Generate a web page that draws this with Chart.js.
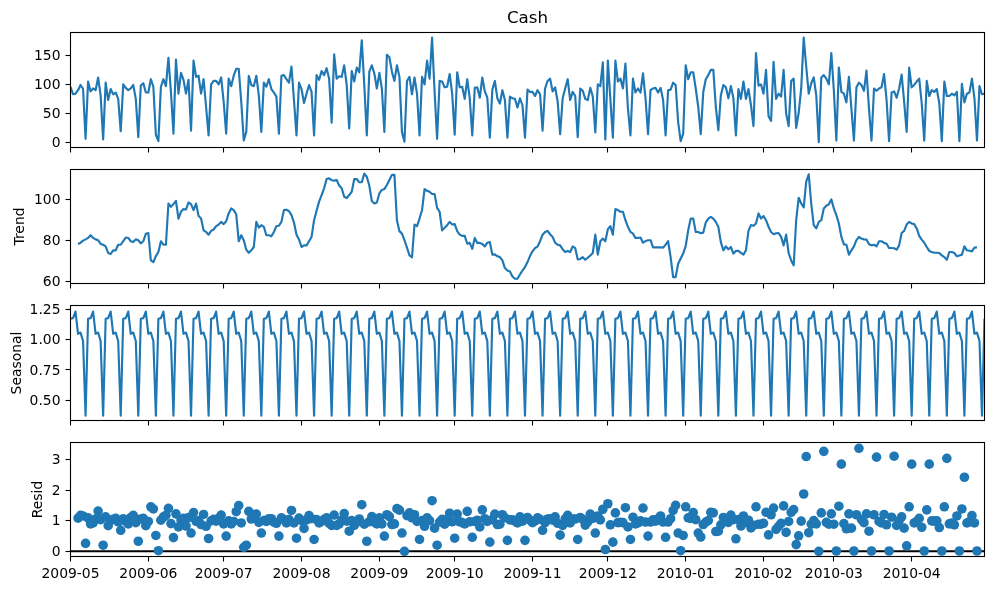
<!DOCTYPE html>
<html>
<head>
<meta charset="utf-8">
<title>Cash decomposition</title>
<script src="https://cdn.jsdelivr.net/npm/chart.js@4"></script>
<style>
html,body{margin:0;padding:0;background:#fff;width:994px;height:590px;overflow:hidden}
canvas{position:absolute;left:0}
</style>
</head>
<body>
<canvas id="c1"></canvas>
<canvas id="c2"></canvas>
<canvas id="c3"></canvas>
<canvas id="c4"></canvas>
<script>
const xTickDays = [0,31,61,92,123,153,184,214,245,276,304,335];
const xTickLabels = ["2009-05","2009-06","2009-07","2009-08","2009-09","2009-10","2009-11","2009-12","2010-01","2010-02","2010-03","2010-04"];
const xLimits = [0,364];
const cashTicks = [0,50,100,150];
const trendTicks = [60,80,100];
const seasonalTicks = [0.5,0.75,1,1.25];
const residTicks = [0,1,2,3];

const cash = [
96,83,84,90,99,92,6, 105,88,93,90,112,81,5, 103,73,92,83,86,75,19, 100,94,90,93,99,75,9,
98,102,86,86,109,96,13, 2,96,109,97,146,87,15, 143,84,120,108,84,108,20, 141,113,115,84,109,61,12,
100,106,106,100,112,70,15, 110,97,115,127,127,70,3, 18,115,99,97,115,81,18, 103,96,109,92,86,79,15,
115,116,109,103,131,73,12, 103,92,68,84,99,87,12, 116,108,123,116,128,110,34, 152,110,114,113,133,99,24,
123,105,129,121,176,99,12, 122,133,119,93,120,93,18, 151,147,122,106,133,113,18, 1,106,113,83,112,84,12,
113,100,141,110,181,87,6, 106,105,95,96,118,84,13, 121,95,96,75,109,76,12, 94,95,77,112,88,77,8,
91,106,76,67,90,73,8, 79,76,75,60,76,64,8, 91,87,87,80,90,83,20, 93,106,110,88,95,71,14,
76,93,109,73,87,80,9, 93,89,75,73,94,79,17, 100,97,138,5,141,75,8, 141,105,110,93,136,58,12,
110,86,93,86,119,76,14, 90,93,94,86,94,73,12, 90,91,103,99,35,2,15, 133,109,121,121,93,61,14,
87,109,116,125,125,61,21, 81,99,95,76,97,76,12, 92,75,105,75,92,64,28, 154,98,100,84,125,45,37,
139,75,84,79,125,50,28, 106,110,25,51,93,181,131, 84,102,112,81,0,112,116, 110,100,154,90,3,129,87,
84,69,113,58,3,95,103, 99,89,124,58,3,93,89, 93,95,118,73,2,86,88, 77,93,117,70,18,129,95,
99,105,110,67,3,106,80, 90,87,92,67,2,105,80, 80,84,81,87,2,101,69, 84,86,110,76,3,97,83, 84];

const trend = [
null,null,null,78.4,79,80,80.6, 81.3,82.6,81.3,80.6,80.2,78.4,78, 77.2,74,73.5,75.3,75.3,78,78,
79.8,81.5,81.3,79.7,79.3,80.6,80.2, 78.7,79.7,83.3,83.7,70.4,69.6,72.5, 74.5,79.7,78,78,98,96.4,97.7,
99.3,90.7,94,95.3,95.1,98.5,97.7, 94.8,98,92,90.7,85,84.2,82.9, 84.7,85.4,87,87.8,89.1,88,89.4,
93.2,95.6,94.8,92.8,79.7,82.6,80.2, 75.6,74.1,75.3,76.9,89.1,86.3,87.5, 86.7,82.6,82.6,82.1,84.2,87,87.2,
89.1,94.8,95,94.3,92.4,88.8,82.9, 80.6,76.9,77.7,77.7,79.7,81.8,89.9, 94.5,98.9,102.1,105.4,109.9,110.2,109.3,
109.1,109.4,106.7,105.4,101.3,100.7,102.1, 103.7,109.8,109.9,108.3,108.3,112.5,111, 106.7,99.2,98,98.5,102.9,104.6,105,
107,109.4,111.9,111.9,89.9,84.6,83.4, 80.2,76.6,72.8,71.9,87.8,87,90.7, 94.8,105,104.2,103.7,102.6,102.6,95.9,
94,85,86.2,87.5,89.1,87.8,88, 84.6,82.9,82.3,82.3,78.5,78.9,76, 81.3,78.9,78.9,78.4,77.2,79,79.3,
73.2,73.3,72.4,72,70.4,66.7,65.5, 65,62.6,61.5,61.5,63.6,65.5,67.2, 69.6,72.5,74.8,76.4,77.1,79.7,82.9,
84.2,84.7,83.1,81.8,79,78,77.7, 75.8,74.5,75,74.5,77.2,76.4,70.9, 71.1,72,70.7,71.7,72.8,74,82.9,
73.2,79.7,81,79.7,85.5,87,82.9, 95.3,94.8,94,94,89.9,86.7,84.2, 83.4,81.3,81.3,81.5,79,79.8,80.2,
80.2,76.7,76.7,76.7,76.7,76.6,78, 79.7,72,62.3,62.3,68.8,71.3,73.7, 77.4,85,90.7,90.7,84.2,84.2,83.6,
83.9,88.8,90.7,91.5,90.7,89.1,86.7, 79.3,75.3,77.2,75.8,76.9,73.7,75, 75,74.1,73.2,75.3,84.7,87.5,87.2,
88.3,93.2,90.7,91.9,89.9,86.7,84.2, 83.1,83.6,83.7,81.8,77.7,82.9,74, 70.4,68,89.9,100.8,98,96.1,108.6,
112.2,98,87.5,85.9,89.1,89.9,95.6, 96.9,97.6,100,95.6,92.4,88.3,81.8, 78.2,78,73.2,75.3,77.2,80.2,81.8,
81,80.6,80.5,78.2,77.7,78,77.2, 79.7,79.7,78.9,78.5,76.4,76.4,76.3, 75.6,77.7,83.7,84.7,87.8,89.1,88.3,
88,85.9,82.3,80.5,79,76.9,75, 74.5,74.1,74.1,74,72.8,72,70.7, 74.5,74.5,74,72.4,72.8,73.2,77.2,
75.3,75.1,74.8,76.6,76.7,null,null, null];

const seasonal = [
1.175,1.18,1.235,1.05,1.06,0.99,0.37, 1.175,1.18,1.235,1.05,1.06,0.99,0.37, 1.175,1.18,1.235,1.05,1.06,0.99,0.37, 1.175,1.18,1.235,1.05,1.06,0.99,0.37,
1.175,1.18,1.235,1.05,1.06,0.99,0.37, 1.175,1.18,1.235,1.05,1.06,0.99,0.37, 1.175,1.18,1.235,1.05,1.06,0.99,0.37, 1.175,1.18,1.235,1.05,1.06,0.99,0.37,
1.175,1.18,1.235,1.05,1.06,0.99,0.37, 1.175,1.18,1.235,1.05,1.06,0.99,0.37, 1.175,1.18,1.235,1.05,1.06,0.99,0.37, 1.175,1.18,1.235,1.05,1.06,0.99,0.37,
1.175,1.18,1.235,1.05,1.06,0.99,0.37, 1.175,1.18,1.235,1.05,1.06,0.99,0.37, 1.175,1.18,1.235,1.05,1.06,0.99,0.37, 1.175,1.18,1.235,1.05,1.06,0.99,0.37,
1.175,1.18,1.235,1.05,1.06,0.99,0.37, 1.175,1.18,1.235,1.05,1.06,0.99,0.37, 1.175,1.18,1.235,1.05,1.06,0.99,0.37, 1.175,1.18,1.235,1.05,1.06,0.99,0.37,
1.175,1.18,1.235,1.05,1.06,0.99,0.37, 1.175,1.18,1.235,1.05,1.06,0.99,0.37, 1.175,1.18,1.235,1.05,1.06,0.99,0.37, 1.175,1.18,1.235,1.05,1.06,0.99,0.37,
1.175,1.18,1.235,1.05,1.06,0.99,0.37, 1.175,1.18,1.235,1.05,1.06,0.99,0.37, 1.175,1.18,1.235,1.05,1.06,0.99,0.37, 1.175,1.18,1.235,1.05,1.06,0.99,0.37,
1.175,1.18,1.235,1.05,1.06,0.99,0.37, 1.175,1.18,1.235,1.05,1.06,0.99,0.37, 1.175,1.18,1.235,1.05,1.06,0.99,0.37, 1.175,1.18,1.235,1.05,1.06,0.99,0.37,
1.175,1.18,1.235,1.05,1.06,0.99,0.37, 1.175,1.18,1.235,1.05,1.06,0.99,0.37, 1.175,1.18,1.235,1.05,1.06,0.99,0.37, 1.175,1.18,1.235,1.05,1.06,0.99,0.37,
1.175,1.18,1.235,1.05,1.06,0.99,0.37, 1.175,1.18,1.235,1.05,1.06,0.99,0.37, 1.175,1.18,1.235,1.05,1.06,0.99,0.37, 1.175,1.18,1.235,1.05,1.06,0.99,0.37,
1.175,1.18,1.235,1.05,1.06,0.99,0.37, 1.175,1.18,1.235,1.05,1.06,0.99,0.37, 1.175,1.18,1.235,1.05,1.06,0.99,0.37, 1.175,1.18,1.235,1.05,1.06,0.99,0.37,
1.175,1.18,1.235,1.05,1.06,0.99,0.37, 1.175,1.18,1.235,1.05,1.06,0.99,0.37, 1.175,1.18,1.235,1.05,1.06,0.99,0.37, 1.175,1.18,1.235,1.05,1.06,0.99,0.37,
1.175,1.18,1.235,1.05,1.06,0.99,0.37, 1.175,1.18,1.235,1.05,1.06,0.99,0.37, 1.175,1.18,1.235,1.05,1.06,0.99,0.37, 1.175,1.18,1.235,1.05,1.06,0.99,0.37,
1.175];

const resid = [
null,null,null,1.09,1.18,1.16,.26, 1.10,.90,.93,1.06,1.32,1.04,.2, 1.13,.84,1.01,1.05,1.08,.97,.69,
1.07,.98,.9,1.11,1.18,.94,.33, 1.06,1.08,.84,.98,1.46,1.39,.52, .02,1.02,1.13,1.18,1.41,.91,.45,
1.23,.8,1.03,1.08,.83,1.11,.6, 1.27,.98,1.01,.88,1.21,.82,.42, 1,1.05,.99,1.08,1.19,.9,.5,
1,.9,.98,1.3,1.5,.93,.13, .2,1.31,1.06,1.2,1.22,.95,.6, 1.01,.98,1.07,1.07,.96,.92,.5,
1.1,1.04,.93,1.04,1.34,.93,.43, 1.09,1.01,.75,1.03,1.17,1.07,.39, 1.04,.93,.98,1.05,1.1,.92,.85,
1.19,.85,.9,1.02,1.24,.99,.66, 1.01,.85,.95,1.06,1.53,.89,.33, .97,1.14,.96,.9,1.1,.9,.5,
1.2,1.14,.88,.9,1.4,1.35,.6, 0,1.17,1.26,1.1,1.2,.98,.39, 1.01,.82,1.1,1.01,1.66,.76,.2,
.96,1.05,.89,1.04,1.25,.97,.43, 1.22,.97,.94,.9,1.31,.97,.46, .98,1.02,.8,1.36,1.07,.98,.3,
1.04,1.22,.88,.89,1.2,1.1,.36, 1.03,1.03,.99,.93,1.13,.99,.36, 1.11,1.02,.94,1,1.1,1.05,.69,
.94,1.06,1.07,1.02,1.13,.92,.53, .85,1.06,1.18,.93,1.06,1.06,.39, 1.11,1.05,.86,.97,1.22,1.08,.6,
1.16,1.03,1.38,.06,1.56,.87,.3, 1.26,.94,.95,.94,1.43,.8,.39, 1.12,.9,.93,1,1.42,.96,.5,
.96,1.03,.99,1.07,1.16,.96,.46, .96,1.07,1.34,1.51,.6,.02,.52, 1.46,1.1,1.08,1.27,1.04,.6,.47,
.88,.96,1.01,1.28,1.26,.65,.66, .87,1.11,1,.95,1.19,1.04,.41, 1.04,.83,1.16,.95,1.02,.77,.85,
1.46,.89,.89,.92,1.28,.54,1.2, 1.42,.72,.82,.92,1.49,.62,.98, 1.28,1.37,.22,.51,.99,1.88,3.11,
.61,.89,1.01,.9,0,1.26,3.28, .95,.89,1.23,.89,.01,1.48,2.86, .91,.74,1.23,.76,.01,1.2,3.38,
1.04,.94,1.23,.66,.01,1.2,3.09, .98,.93,1.21,.87,.01,1.12,3.12, .85,1.01,1.13,.76,.18,1.46,2.86,
.93,.98,1.08,.79,.01,1.36,2.86, 1,.99,1,.78,.01,1.46,3.05, .9,.93,.87,1.16,.01,1.39,2.43,
.93,.97,1.17,.93,.01,null,null, null];

const BLUE = '#1f77b4';
const FONT = 'DejaVu Sans';
const AXIS_LEFT = 70.5, AXIS_RIGHT_PAD = 9.5, CANVAS_W = 994;

const frame = {
  id: 'frame',
  afterDatasetsDraw(chart) {
    const a = chart.chartArea, g = chart.ctx;
    g.save();
    g.strokeStyle = '#000';
    g.lineWidth = 1.1;
    g.strokeRect(a.left, a.top, a.right - a.left, a.bottom - a.top);
    g.restore();
  }
};

function points(values) { return values.map((v, i) => ({x: i, y: v})); }

function panel(cfg) {
  const el = document.getElementById(cfg.id);
  const padTop = cfg.title ? 0 : 10.5;
  const topSpace = cfg.title ? cfg.top + 0.5 : padTop;
  const xH = cfg.showX ? 33.5 : 11.5;
  const canvasTop = cfg.title ? 0 : cfg.top - 10;
  const h = Math.round((cfg.bottom - cfg.top) + topSpace + xH);
  el.style.top = canvasTop + 'px';
  el.width = CANVAS_W; el.height = h;
  el.style.width = CANVAS_W + 'px'; el.style.height = h + 'px';
  return new Chart(el, {
    type: 'line',
    data: { datasets: cfg.datasets },
    plugins: [frame],
    options: {
      responsive: false,
      devicePixelRatio: 1,
      animation: false,
      events: [],
      layout: { padding: { top: padTop, right: AXIS_RIGHT_PAD, left: 0, bottom: 0 } },
      plugins: {
        legend: { display: false },
        tooltip: { enabled: false },
        title: cfg.title ? {
          display: true, text: cfg.title, color: '#000', fullSize: false,
          font: { family: FONT, size: 16.7, weight: 'normal', lineHeight: 1.2 },
          padding: { top: 9, bottom: topSpace - 9 - 20.04 }
        } : { display: false }
      },
      scales: {
        x: {
          type: 'linear',
          min: xLimits[0], max: xLimits[1],
          afterBuildTicks(s) { s.ticks = xTickDays.map(v => ({value: v})); },
          afterFit(s) { s.height = xH; s.paddingLeft = 0; s.paddingRight = 0; },
          grid: { display: true, drawOnChartArea: false, drawTicks: true, tickLength: 5, tickWidth: 1.1, tickColor: '#000' },
          border: { display: false },
          ticks: {
            display: !!cfg.showX, color: '#000', padding: 5, autoSkip: false, maxRotation: 0, minRotation: 0,
            font: { family: FONT, size: 13.9 },
            callback(v) { return xTickLabels[xTickDays.indexOf(v)]; }
          }
        },
        y: {
          type: 'linear',
          min: cfg.yMin, max: cfg.yMax,
          afterBuildTicks(s) { s.ticks = cfg.yTicks.map(v => ({value: v})); },
          afterFit(s) { s.width = AXIS_LEFT; s.paddingTop = 0; s.paddingBottom = 0; },
          grid: { display: true, drawOnChartArea: false, drawTicks: true, tickLength: 5, tickWidth: 1.1, tickColor: '#000' },
          border: { display: false },
          title: cfg.ylabel ? {
            display: true, text: cfg.ylabel, color: '#000',
            font: { family: FONT, size: 13.9, lineHeight: 1.2 },
            padding: { top: cfg.ylabelX - 8.3, bottom: 0 }
          } : { display: false },
          ticks: {
            color: '#000', padding: 5, labelOffset: 1,
            font: { family: FONT, size: 13.9 },
            callback(v) { return cfg.fmt ? cfg.fmt(v) : String(v); }
          }
        }
      }
    }
  });
}

function lineSet(values) {
  return { data: points(values), borderColor: BLUE, borderWidth: 2.15, borderJoinStyle: 'round', borderCapStyle: 'butt',
           pointRadius: 0, tension: 0, fill: false, spanGaps: false };
}

panel({ id:'c1', top:32, bottom:147, title:'Cash', yMin:-9, yMax:189.7, yTicks:cashTicks, datasets:[lineSet(cash)] });
panel({ id:'c2', top:169, bottom:283, ylabel:'Trend', ylabelX:20, yMin:59.2, yMax:114.5, yTicks:trendTicks, datasets:[lineSet(trend)] });
panel({ id:'c3', top:305, bottom:420, ylabel:'Seasonal', ylabelX:17, yMin:0.33, yMax:1.285, yTicks:seasonalTicks,
  fmt:v=>v.toFixed(2), datasets:[lineSet(seasonal)] });
panel({ id:'c4', top:442, bottom:556, ylabel:'Resid', ylabelX:38, showX:true, yMin:-0.17, yMax:3.57, yTicks:residTicks,
  datasets:[
    { type:'line', data: points(resid), showLine:false, pointRadius:4.8, pointBorderWidth:0, pointBackgroundColor:BLUE, order:1 },
    { type:'line', data: xLimits.map(x=>({x:x,y:0})), borderColor:'#000', borderWidth:2, pointRadius:0, order:2 }
  ]});
</script>
</body>
</html>
